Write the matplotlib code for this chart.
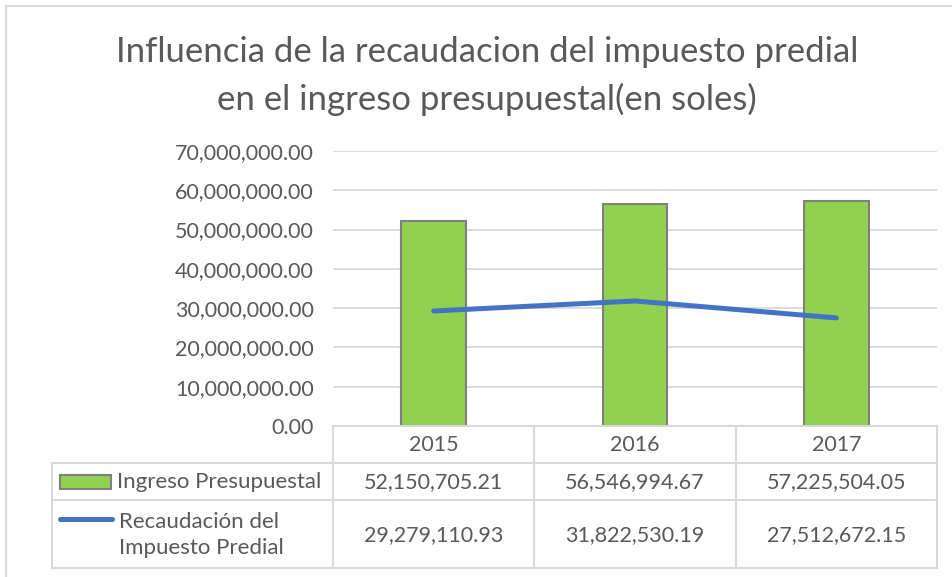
import numpy as np
import matplotlib.pyplot as plt
from matplotlib.patches import Rectangle
from matplotlib.lines import Line2D

years = ['2015', '2016', '2017']
ingreso = [52150705.21, 56546994.67, 57225504.05]
recaudacion = [29279110.93, 31822530.19, 27512672.15]
ingreso_lbl = ['52,150,705.21', '56,546,994.67', '57,225,504.05']
recaud_lbl = ['29,279,110.93', '31,822,530.19', '27,512,672.15']
yticks = np.arange(0, 70000001, 10000000)

plt.rcParams['font.family'] = ['Lato', 'DejaVu Sans']
txt = '#595959'
grid = '#D9D9D9'
W, H = 953, 577

fig = plt.figure(figsize=(W / 100, H / 100), dpi=100)

def fx(px):
    return px / W

def fy(py):
    return 1 - py / H

# plot area in pixels
L, R, T, B = 333, 937, 151, 426
ax = fig.add_axes([fx(L), fy(B), fx(R - L), (B - T) / H])
x = np.arange(len(years))
ax.bar(x, ingreso, width=0.32, color='#92D050', edgecolor='#7F7F7F', linewidth=1.5, zorder=2)
ax.plot(x, recaudacion, color='#4472C4', linewidth=3.6, solid_capstyle='round', zorder=3)
ax.set_xlim(-0.5, 2.5)
ax.set_ylim(0, 70000000)
ax.set_yticks(yticks)
ax.set_yticklabels(['{:,.2f}'.format(v) for v in yticks], color=txt, fontsize=15.5)
ax.tick_params(axis='y', length=0, pad=14)
ax.set_xticks([])
ax.grid(axis='y', color=grid, linewidth=1.3, zorder=0)
for s in ax.spines.values():
    s.set_visible(False)

# outer chart border (top and left)
fig.add_artist(Line2D([fx(6), 1], [fy(6), fy(6)], color=grid, lw=1.5))
fig.add_artist(Line2D([fx(6), fx(6)], [fy(6), 0], color=grid, lw=1.5))

fig.text(fx(487), fy(52), 'Influencia de la recaudacion del impuesto predial',
         ha='center', va='center', fontsize=25, color=txt)
fig.text(fx(487), fy(99), 'en el ingreso presupuestal(en soles)',
         ha='center', va='center', fontsize=25, color=txt)

# data table
cols = [333, 534, 736, 937]
rows = [426, 463, 500, 568]
def hline(y, x0, x1):
    fig.add_artist(Line2D([fx(x0), fx(x1)], [fy(y), fy(y)], color=grid, lw=1.5))
def vline(xp, y0, y1):
    fig.add_artist(Line2D([fx(xp), fx(xp)], [fy(y0), fy(y1)], color=grid, lw=1.5))

hline(426, 333, 937)
for yy in rows[1:]:
    hline(yy, 52, 937)
for xp in cols:
    vline(xp, 426, 568)
vline(52, 463, 568)

for i, yr in enumerate(years):
    cx = (cols[i] + cols[i + 1]) / 2
    fig.text(fx(cx), fy(445), yr, ha='center', va='center', fontsize=15.5, color=txt)
    fig.text(fx(cx), fy(482), ingreso_lbl[i], ha='center', va='center', fontsize=15.5, color=txt)
    fig.text(fx(cx), fy(535), recaud_lbl[i], ha='center', va='center', fontsize=15.5, color=txt)

fig.add_artist(Rectangle((fx(60), fy(489)), fx(51), 14 / H, facecolor='#92D050',
                         edgecolor='#7F7F7F', lw=1.5))
fig.text(fx(117), fy(482), 'Ingreso Presupuestal', ha='left', va='center', fontsize=16, color=txt)
fig.add_artist(Line2D([fx(60), fx(112)], [fy(519), fy(519)], color='#4472C4', lw=3.6,
                      solid_capstyle='round'))
fig.text(fx(119), fy(535), 'Recaudación del\nImpuesto Predial', ha='left', va='center',
         fontsize=16, color=txt, linespacing=1.4)

fig.savefig('out.png', dpi=100)
